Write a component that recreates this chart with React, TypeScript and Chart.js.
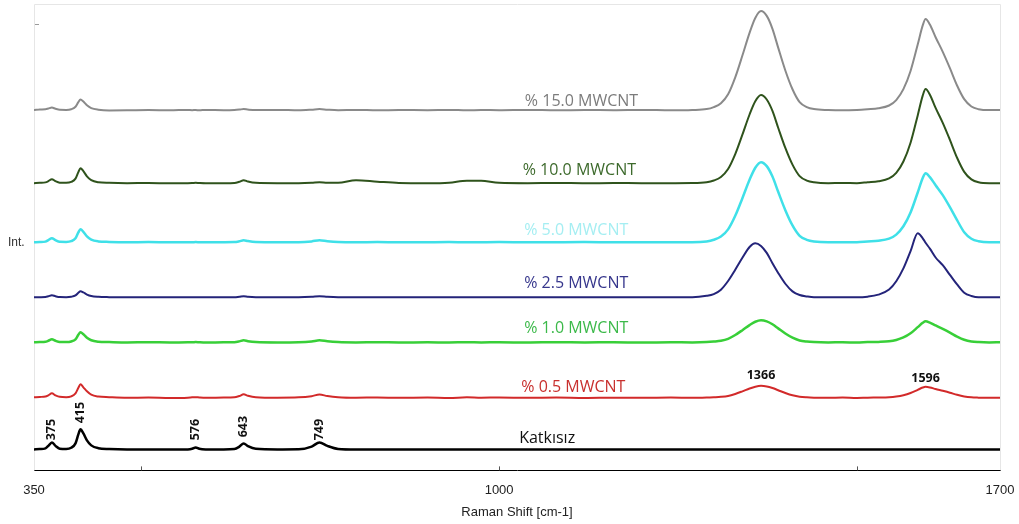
import React, { useEffect, useRef } from 'react';
import { Chart, registerables } from 'chart.js';

Chart.register(...registerables);

// Raman shift sample positions (cm-1)
const WAVENUMBERS = [
  350, 358, 366, 370, 375, 380, 386, 395, 402, 408,
  412, 415, 419, 424, 430, 440, 455, 480, 510, 540,
  565, 571, 576, 581, 590, 615, 630, 637, 643, 649,
  660, 690, 720, 738, 749, 760, 775, 800, 830, 860,
  900, 930, 955, 975, 1000, 1040, 1080, 1120, 1160, 1200,
  1240, 1270, 1290, 1300, 1310, 1320, 1330, 1340, 1350, 1358,
  1366, 1374, 1382, 1390, 1400, 1410, 1420, 1430, 1440, 1460,
  1480, 1500, 1515, 1530, 1545, 1555, 1565, 1575, 1585, 1592,
  1596, 1602, 1610, 1620, 1630, 1640, 1650, 1660, 1670, 1685,
  1700,
];

// Intensities (stacked, arbitrary units)
const KATKISIZ = [
  21, 21.3, 22, 24.5, 28, 24.5, 21.7, 21.4, 22.6, 27,
  36, 41, 37, 30, 25, 22.2, 21.4, 21, 21, 21,
  21, 21.6, 23, 21.6, 21, 21, 21.3, 23.7, 27, 24.3,
  21.6, 21, 21.1, 23.8, 28, 24.5, 21.5, 21, 21, 21,
  21, 21, 21, 21, 21, 21, 21, 21, 21, 21,
  21, 21, 21, 21, 21, 21, 21, 21, 21, 21,
  21, 21, 21, 21, 21, 21, 21, 21, 21, 21,
  21, 21, 21, 21, 21, 21, 21, 21, 21, 21,
  21, 21, 21, 21, 21, 21, 21, 21, 21, 21,
  21,
];

const MWCNT_0_5 = [
  73, 73.4, 73.8, 75, 77, 75, 73.5, 73.2, 74, 77,
  82.5, 86, 83, 79, 75.6, 73.8, 73.2, 72.6, 72.8, 72.4,
  72.7, 73, 73.2, 72.9, 72.6, 72.8, 73, 74.3, 76, 74.6,
  73.2, 72.7, 73, 74.2, 75.8, 74.3, 73.1, 72.6, 72.9, 72.5,
  72.8, 72.4, 73, 72.6, 72.9, 72.5, 72.8, 72.4, 72.7, 72.5,
  72.8, 72.5, 72.8, 73.1, 73.5, 74.4, 76.4, 79, 81.8, 83.6,
  84.5, 83.9, 82.3, 80.1, 77.3, 75, 73.6, 73, 72.7, 72.5,
  72.8, 72.4, 72.7, 72.8, 73.1, 73.8, 75.1, 77.3, 80.5, 82.8,
  83.5, 82.9, 81.3, 79.5, 77.6, 75.5, 73.9, 73, 72.7, 72.5,
  72.7,
];

const MWCNT_1_0 = [
  128, 128.2, 128.5, 129.5, 131, 129.5, 128.3, 128.2, 128.8, 131,
  135.5, 138, 136, 132.5, 130, 128.6, 128.2, 127.8, 128.1, 127.8,
  128, 128, 128.2, 128, 127.8, 128, 128.1, 128.9, 130, 129.1,
  128.2, 127.8, 128, 128.8, 130, 129, 128.2, 127.9, 128.1, 127.8,
  128, 127.8, 128.1, 127.9, 128, 127.8, 128.1, 127.9, 128, 127.8,
  128, 127.9, 128.2, 128.7, 129.5, 131.5, 135.3, 140.1, 145.2, 148.5,
  150, 148.9, 146, 141.9, 136.8, 132.6, 129.8, 128.7, 128.2, 127.9,
  128, 127.8, 128.2, 128.4, 129, 130.3, 132.8, 137, 143.1, 147.5,
  149, 147.7, 144.8, 141.4, 137.7, 133.7, 130.5, 128.8, 128.2, 127.9,
  128,
];

const MWCNT_2_5 = [
  173, 173.1, 173.3, 174, 175, 174, 173.2, 173.1, 173.5, 174.8,
  177.5, 179, 177.8, 175.7, 174.2, 173.4, 173.1, 173, 173, 173,
  173, 173, 173, 173, 173, 173, 173, 173.5, 174, 173.5,
  173.1, 173, 173, 173.4, 174, 173.5, 173.1, 173, 173, 173,
  173, 173, 173, 173, 173, 173, 173, 173, 173, 173,
  173, 173, 174.4, 176.2, 180.6, 189.2, 200.5, 212.4, 223.2, 227,
  224.3, 217.3, 207, 197.3, 186.5, 178.9, 175.2, 173.8, 173, 173,
  173, 173, 173.6, 175.6, 180.7, 189, 201.8, 219.1, 237, 231.9,
  227.4, 221.6, 212.7, 205, 195.4, 185.8, 177.5, 174.3, 173, 173,
  173,
];

const MWCNT_5_0 = [
  228, 228.2, 228.6, 230, 232, 230, 228.4, 228.3, 229, 231.9,
  237.8, 241, 238.4, 233.9, 230.6, 228.8, 228.3, 228, 228.1, 227.9,
  228, 228, 228.1, 228, 227.9, 228, 228.1, 228.9, 230, 229.1,
  228.2, 228, 228, 228.8, 230, 229, 228.2, 228, 228.1, 227.9,
  228, 228.1, 227.9, 228, 228.1, 227.9, 228, 228.1, 227.9, 228,
  228, 228, 228.8, 230.4, 233.6, 240.8, 254.4, 272, 290.4, 302.4,
  308, 304, 293.6, 278.4, 260, 244.8, 234.4, 230.4, 228.8, 228,
  228, 228, 228.7, 229.4, 231.5, 235.6, 243.9, 257.7, 277.7, 292.2,
  297, 293, 285, 275, 263, 250, 238, 231.5, 229, 228,
  228,
];

const MWCNT_10_0 = [
  287, 287.3, 287.8, 289, 291, 289, 287.5, 287.3, 288.2, 291.5,
  298, 302, 299, 293.8, 290, 287.9, 287.3, 287, 287.1, 286.9,
  287, 287.1, 287.3, 287.1, 286.9, 287, 287.2, 288.4, 290, 288.6,
  287.3, 287, 287, 287.4, 288, 287.5, 287.5, 290, 288.5, 287.2,
  287, 287.5, 289.5, 289.3, 287.4, 287, 287.2, 286.9, 287.1, 287,
  287, 287.1, 287.9, 289.6, 293.2, 301.1, 316, 335.4, 355.6, 368.8,
  375, 370.6, 359.2, 342.4, 322.2, 305.5, 294, 289.6, 287.9, 287,
  287.1, 287, 287.9, 288.9, 291.7, 297.3, 308.6, 327.4, 354.7, 374.4,
  381, 375.4, 362.2, 347.2, 330.2, 312.4, 298.3, 290.8, 287.9, 287,
  287,
];

const MWCNT_15_0 = [
  360, 360.6, 360.8, 361.5, 362.5, 361.3, 360.3, 360.2, 360.8, 363.3,
  368, 370.5, 368.5, 364.8, 362, 360.4, 359.7, 359.8, 360.1, 359.8,
  360.2, 359.9, 360.1, 359.8, 360.2, 359.9, 360.1, 360.5, 361, 360.5,
  360, 360.2, 359.8, 360.4, 361, 360.4, 359.9, 360.2, 359.8, 360.1,
  359.9, 360.2, 359.8, 360.1, 359.9, 360.2, 359.8, 360.1, 359.9, 360.2,
  359.8, 360.1, 361, 363, 366.9, 375.8, 392.7, 414.5, 437.2, 452.1,
  459, 454.1, 441.2, 422.4, 399.6, 380.8, 367.9, 363, 361, 360.1,
  359.8, 360.2, 360.9, 361.8, 364.6, 370, 380.9, 399.1, 425.5, 444.6,
  451, 445.5, 432.8, 418.2, 401.9, 384.6, 370.9, 363.6, 360.9, 360,
  360.1,
];

const SERIES_NAMES = [
  '% 15.0 MWCNT',
  '% 10.0 MWCNT',
  '% 5.0 MWCNT',
  '% 2.5 MWCNT',
  '% 1.0 MWCNT',
  '% 0.5 MWCNT',
  'Katkısız',
];
const SERIES_VALUES = [MWCNT_15_0, MWCNT_10_0, MWCNT_5_0, MWCNT_2_5, MWCNT_1_0, MWCNT_0_5, KATKISIZ];

const PEAK_POSITIONS = [375, 415, 576, 643, 749, 1366, 1596];
const X_TICK_VALUES = [350, 500, 1000, 1500, 1700];
const X_TICK_LABELS = ['350', '', '1000', '', '1700'];
const X_TITLE = 'Raman Shift [cm-1]';
const Y_TITLE = 'Int.';

// styling (kept apart from the data)
const LINE_COLORS = ['#8a8a8a', '#2f531c', '#3fe0e8', '#24247a', '#38cf38', '#d22a2a', '#000000'];
const TEXT_COLORS = ['#7c7c7c', '#3d6a2c', '#a5eef2', '#36368c', '#3cb94a', '#c8302e', '#111111'];
const LINE_WIDTHS = [2, 2, 2.5, 2, 2.5, 2, 2.5];
const NAME_ANCHOR = [
  { x: 1036, y: 369 },
  { x: 1033, y: 300 },
  { x: 1035, y: 240 },
  { x: 1035, y: 187 },
  { x: 1035, y: 142 },
  { x: 1031, y: 83 },
  { x: 1028, y: 32 },
];
const PEAK_ANCHOR_Y = [30, 47, 30, 33, 30, 95, 92];
const PEAK_ROTATED = [true, true, true, true, true, false, false];

const overlayPlugin = {
  id: 'overlay',
  beforeDatasetsDraw(chart: any) {
    const { ctx, chartArea } = chart;
    ctx.save();
    ctx.strokeStyle = '#e6e6e6';
    ctx.lineWidth = 1;
    ctx.beginPath();
    ctx.moveTo(chartArea.left + 0.5, chartArea.bottom);
    ctx.lineTo(chartArea.left + 0.5, chartArea.top + 0.5);
    ctx.lineTo(chartArea.right + 0.5, chartArea.top + 0.5);
    ctx.lineTo(chartArea.right + 0.5, chartArea.bottom);
    ctx.stroke();
    // small y tick
    ctx.strokeStyle = '#9a9a9a';
    ctx.beginPath();
    ctx.moveTo(chartArea.left + 1, 24.5);
    ctx.lineTo(chartArea.left + 5, 24.5);
    ctx.stroke();
    ctx.restore();
  },
  afterDraw(chart: any) {
    const { ctx, chartArea } = chart;
    const xs = chart.scales.x;
    ctx.save();
    // inward x ticks
    ctx.strokeStyle = '#555';
    ctx.lineWidth = 1;
    X_TICK_VALUES.forEach((v) => {
      if (v === 350 || v === 1700) return;
      const px = Math.round(xs.getPixelForValue(v)) + 0.5;
      ctx.beginPath();
      ctx.moveTo(px, xs.top);
      ctx.lineTo(px, xs.top - 4);
      ctx.stroke();
    });
    // x axis title
    ctx.font = '13px "Liberation Sans"';
    ctx.fillStyle = '#222';
    ctx.textAlign = 'center';
    ctx.textBaseline = 'middle';
    ctx.fillText(X_TITLE, (chartArea.left + chartArea.right) / 2, 512);
    ctx.restore();
  },
  afterDatasetsDraw(chart: any) {
    const { ctx } = chart;
    const xs = chart.scales.x;
    const ys = chart.scales.y;
    ctx.save();
    // series names
    ctx.font = '16px "Open Sans"';
    ctx.textAlign = 'left';
    ctx.textBaseline = 'middle';
    SERIES_NAMES.forEach((name, i) => {
      ctx.fillStyle = TEXT_COLORS[i];
      ctx.fillText(name, xs.getPixelForValue(NAME_ANCHOR[i].x), ys.getPixelForValue(NAME_ANCHOR[i].y));
    });
    // peak labels
    ctx.font = 'bold 12.5px "Open Sans"';
    ctx.fillStyle = '#111';
    PEAK_POSITIONS.forEach((p, i) => {
      const px = xs.getPixelForValue(p);
      const py = ys.getPixelForValue(PEAK_ANCHOR_Y[i]);
      if (PEAK_ROTATED[i]) {
        ctx.save();
        ctx.translate(px, py);
        ctx.rotate(-Math.PI / 2);
        ctx.textAlign = 'left';
        ctx.textBaseline = 'middle';
        ctx.fillText(String(p), 0, 0);
        ctx.restore();
      } else {
        ctx.textAlign = 'center';
        ctx.textBaseline = 'middle';
        ctx.fillText(String(p), px, py);
      }
    });
    // y axis title
    ctx.font = '12px "Liberation Sans"';
    ctx.fillStyle = '#333';
    ctx.textAlign = 'left';
    ctx.textBaseline = 'middle';
    ctx.fillText(Y_TITLE, 8, 243);
    ctx.restore();
  },
};

export default function App() {
  const canvasRef = useRef<HTMLCanvasElement | null>(null);

  useEffect(() => {
    document.body.style.margin = '0';
    const canvas = canvasRef.current;
    if (!canvas) return;
    const datasets = SERIES_VALUES.map((vals, i) => ({
      label: SERIES_NAMES[i],
      data: WAVENUMBERS.map((x, j) => ({ x, y: vals[j] })),
      borderColor: LINE_COLORS[i],
      backgroundColor: LINE_COLORS[i],
      borderWidth: LINE_WIDTHS[i],
      pointRadius: 0,
      fill: false,
      cubicInterpolationMode: 'monotone' as const,
    }));
    const chart = new Chart(canvas, {
      type: 'line',
      data: { datasets },
      options: {
        animation: false,
        responsive: false,
        maintainAspectRatio: false,
        layout: { padding: { left: 34, right: 19, top: 4, bottom: 14 } },
        plugins: { legend: { display: false }, tooltip: { enabled: false } },
        scales: {
          x: {
            type: 'linear',
            min: 350,
            max: 1700,
            afterBuildTicks: (scale: any) => {
              scale.ticks = X_TICK_VALUES.map((v) => ({ value: v }));
            },
            afterFit: (scale: any) => {
              scale.paddingLeft = 0;
              scale.paddingRight = 0;
            },
            ticks: {
              autoSkip: false,
              maxRotation: 0,
              padding: 12,
              color: '#222',
              font: { family: 'Liberation Sans', size: 13 },
              callback: (v: any) => {
                const k = X_TICK_VALUES.indexOf(Number(v));
                return k >= 0 ? X_TICK_LABELS[k] : '';
              },
            },
            grid: { display: false, drawTicks: false },
            border: { display: true, color: '#000', width: 1 },
            title: { display: false },
          },
          y: { type: 'linear', display: false, min: 0, max: 466 },
        },
      },
      plugins: [overlayPlugin],
    });
    return () => chart.destroy();
  }, []);

  return <canvas ref={canvasRef} width={1019} height={524} style={{ display: 'block' }} />;
}
